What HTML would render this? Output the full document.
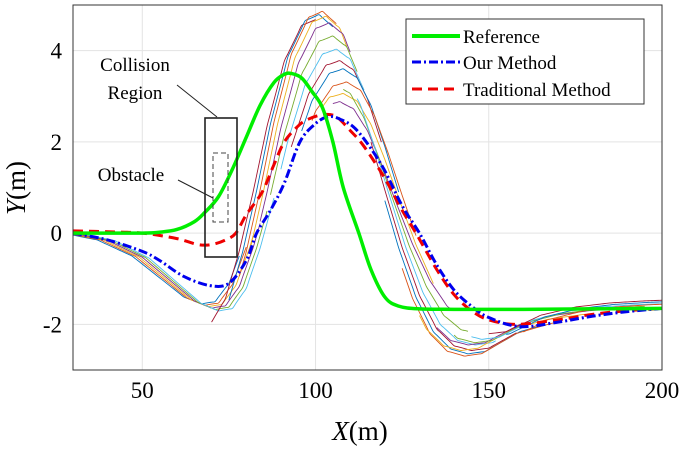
<!DOCTYPE html>
<html><head><meta charset="utf-8"><style>
body{margin:0;background:#fff;}
svg{display:block;font-family:"Liberation Serif",serif;}
</style></head><body>
<svg id="chart" width="685" height="451" viewBox="0 0 685 451" xmlns="http://www.w3.org/2000/svg">
<defs><clipPath id="clip"><rect x="73" y="5" width="589" height="365"/></clipPath></defs>
<g id="grid"></g>
<g id="thin" clip-path="url(#clip)"></g>
<g id="main" clip-path="url(#clip)"></g>
<rect x="73" y="5" width="589" height="365" fill="none" stroke="#333" stroke-width="1"/>
<g id="ticks"></g>
<text x="360" y="440" font-size="27" text-anchor="middle"><tspan font-style="italic">X</tspan>(m)</text>
<text transform="translate(25,188) rotate(-90)" font-size="27" text-anchor="middle"><tspan font-style="italic">Y</tspan>(m)</text>
<rect x="205" y="118" width="32" height="139" fill="none" stroke="#222" stroke-width="1.6"/>
<rect x="213" y="153" width="15" height="69" fill="none" stroke="#444" stroke-width="1" stroke-dasharray="5,3"/>
<text x="135" y="71" font-size="19" text-anchor="middle">Collision</text>
<text x="135" y="99" font-size="19" text-anchor="middle">Region</text>
<line x1="177" y1="85" x2="217" y2="117" stroke="#222" stroke-width="1"/>
<text x="131" y="181" font-size="19" text-anchor="middle">Obstacle</text>
<line x1="178" y1="180" x2="213" y2="198" stroke="#222" stroke-width="1"/>
<g>
<rect x="406" y="19" width="238" height="85" fill="#fff" stroke="#333" stroke-width="1"/>
<line x1="412" y1="36" x2="460" y2="36" stroke="#00ee00" stroke-width="4"/>
<text x="463" y="43" font-size="19">Reference</text>
<line x1="412" y1="62" x2="460" y2="62" stroke="#0000ee" stroke-width="3" stroke-dasharray="9,3,2,3"/>
<text x="463" y="69" font-size="19">Our Method</text>
<line x1="412" y1="89" x2="460" y2="89" stroke="#ee0000" stroke-width="3" stroke-dasharray="10,6"/>
<text x="463" y="96" font-size="19">Traditional Method</text>
</g>
</svg>
<script>
const xTicks=[50,100,150,200];
const yTicks=[-2,0,2,4];
const yTickLabels=["-2","0","2","4"];
const refX=[30,40,50,55,60,65,68,72,76,80,84,88,91,93,96,99,102,105,108,112.5,116,120,124,130,140,160,200];
const refY=[0,0,0,0.02,0.08,0.25,0.45,0.8,1.4,2.1,2.8,3.3,3.48,3.5,3.4,3.1,2.75,2.0,1.0,0,-0.8,-1.4,-1.6,-1.66,-1.67,-1.67,-1.65];
const ourX=[30,40,50,55,62,69.5,75,80,83,87,91,95.5,100,103.6,107,112,119,125,130,135,140,145,150,159,170,180,190,200];
const ourY=[0,-0.15,-0.4,-0.6,-0.95,-1.15,-1.1,-0.6,0,0.5,1.1,2.0,2.4,2.55,2.5,2.25,1.5,0.6,0,-0.7,-1.25,-1.6,-1.85,-2.05,-1.95,-1.82,-1.72,-1.65];
const tradX=[30,40,50,60,66,70,74,77,80,84.6,88,91,95,98,102.4,106,110,114,120,125,129,135,140,145,150,158,170,180,190,200];
const tradY=[0.05,0.03,0,-0.12,-0.25,-0.25,-0.15,0,0.4,0.9,1.5,2.0,2.35,2.5,2.6,2.55,2.25,1.9,1.2,0.5,0,-0.8,-1.35,-1.7,-1.9,-2.0,-1.9,-1.78,-1.7,-1.65];
const baseX=[30,40,50,60,65,70,74,78,82,86,90,95,100,104,108,112,116,120,125,130,135,140,145,150,155,160,170,180,190,200];
const baseY=[0,-0.15,-0.5,-1.1,-1.4,-1.55,-1.5,-1.1,-0.3,0.7,1.8,2.9,3.5,3.6,3.4,2.8,1.9,0.9,-0.3,-1.3,-2.0,-2.35,-2.45,-2.4,-2.2,-2.0,-1.8,-1.7,-1.65,-1.62];
const thinStart=[30,30,30,30,30,30,70,75,78,81,84,87,90,93,96,99,102,105,108,112,116,120,125,130,135,140,145,150,155,160];
const thinLen=[48,50,52,54,56,58,30,30,28,28,26,25,24,26,28,30,32,34,36,40,42,44,46,48,50,55,55,50,45,40];
const thinShift=[-3,-2,-1,0,1,2,-4,-3,-2,-1,0,1,2,3,4,5,4,3,2,1,0,-1,-2,-3,-1,1,3,5,6,7];
const thinAmp=[1.0,1.02,1.04,1.06,1.08,1.1,1.3,1.33,1.35,1.32,1.28,1.2,1.12,1.05,1.0,0.92,0.85,0.8,0.9,1.0,1.05,1.08,1.1,1.05,1.0,0.98,0.95,0.9,0.92,0.95];
const colors=["#0072BD","#D95319","#EDB120","#7E2F8E","#77AC30","#4DBEEE","#A2142F"];
const xs=v=>73+(v-30)*589/170;
const ys=v=>5+(5-v)*365/8;
const NS="http://www.w3.org/2000/svg";
function mk(tag,attrs,parent){const e=document.createElementNS(NS,tag);for(const k in attrs)e.setAttribute(k,attrs[k]);parent.appendChild(e);return e;}
function interp(X,Y,x){if(x<=X[0])return Y[0];for(let i=1;i<X.length;i++){if(x<=X[i]){const t=(x-X[i-1])/(X[i]-X[i-1]);return Y[i-1]+t*(Y[i]-Y[i-1]);}}return Y[Y.length-1];}
function smooth(pts){let d="M"+pts[0][0]+","+pts[0][1];for(let i=0;i<pts.length-1;i++){const p0=pts[i-1]||pts[i],p1=pts[i],p2=pts[i+1],p3=pts[i+2]||p2;d+=" C"+(p1[0]+(p2[0]-p0[0])/6)+","+(p1[1]+(p2[1]-p0[1])/6)+" "+(p2[0]-(p3[0]-p1[0])/6)+","+(p2[1]-(p3[1]-p1[1])/6)+" "+p2[0]+","+p2[1];}return d;}
const grid=document.getElementById('grid'),ticks=document.getElementById('ticks');
xTicks.forEach(t=>{
 const l=mk('line',{x1:xs(t),x2:xs(t),y1:5,y2:370,stroke:'#e3e3e3','stroke-width':1},grid);
 
 
 const tx=mk('text',{x:xs(t),y:398,'font-size':23,'text-anchor':'middle'},ticks);tx.textContent=t;
 
 
});
yTicks.forEach((t,i)=>{
 const l=mk('line',{x1:73,x2:662,y1:ys(t),y2:ys(t),stroke:'#e3e3e3','stroke-width':1},grid);
 
 
 const tx=mk('text',{x:62,y:ys(t)+8,'font-size':23,'text-anchor':'end'},ticks);tx.textContent=yTickLabels[i];
 
 
});
const thin=document.getElementById('thin');
thinStart.forEach((s,i)=>{
 const pts=[];for(let x=s;x<=Math.min(200,s+thinLen[i]);x+=1){pts.push([xs(x),ys(interp(baseX,baseY,x-thinShift[i])*thinAmp[i])]);}
 const p=mk('path',{d:smooth(pts),fill:'none',stroke:colors[i%7],'stroke-width':0.9},thin);
 
 
});
const main=document.getElementById('main');
function series(X,Y,attrs,name){const pts=X.map((x,i)=>[xs(x),ys(Y[i])]);attrs.d=smooth(pts);attrs.fill='none';const p=mk('path',attrs,main);
 
 }
series(tradX,tradY,{stroke:'#ee0000','stroke-width':3,'stroke-dasharray':'10,6'},'traditional-method-line');
series(ourX,ourY,{stroke:'#0000ee','stroke-width':3,'stroke-dasharray':'9,3,2,3'},'our-method-line');
series(refX,refY,{stroke:'#00ee00','stroke-width':3.5},'reference-line');
</script>
</body></html>
